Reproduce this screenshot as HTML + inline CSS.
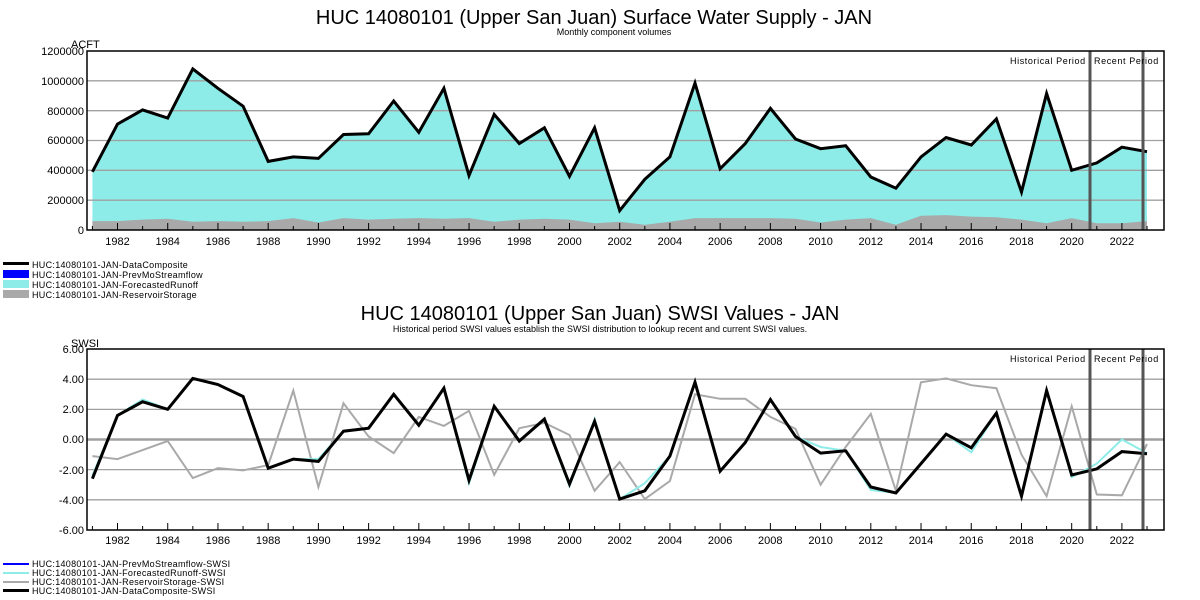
<!DOCTYPE html>
<html><head><meta charset="utf-8"><style>
html,body{margin:0;padding:0;background:#fff;}
svg{display:block;font-family:"Liberation Sans",Arial,sans-serif;}
</style></head><body>
<svg id="s" width="1200" height="600" viewBox="0 0 1200 600" xmlns="http://www.w3.org/2000/svg">
<rect width="1200" height="600" fill="#fff"/>
<text x="594" y="24" font-size="20" text-anchor="middle">HUC 14080101 (Upper San Juan) Surface Water Supply - JAN</text>
<text x="614" y="35" font-size="9" text-anchor="middle">Monthly component volumes</text>
<text x="600" y="320" font-size="20" text-anchor="middle">HUC 14080101 (Upper San Juan) SWSI Values - JAN</text>
<text x="600" y="332" font-size="9" text-anchor="middle">Historical period SWSI values establish the SWSI distribution to lookup recent and current SWSI values.</text>
<g id="top"></g><g id="bot"></g>
<g font-size="11" text-anchor="end">
<text x="84" y="55">1200000</text><text x="84" y="85">1000000</text><text x="84" y="115">800000</text><text x="84" y="144">600000</text><text x="84" y="174">400000</text><text x="84" y="204">200000</text><text x="84" y="234">0</text>
<text x="84" y="353">6.00</text><text x="84" y="383">4.00</text><text x="84" y="413">2.00</text><text x="84" y="443">0.00</text><text x="84" y="474">-2.00</text><text x="84" y="504">-4.00</text><text x="84" y="534">-6.00</text>
</g>
<text x="71" y="48" font-size="11">ACFT</text>
<text x="71" y="347" font-size="11">SWSI</text>
<g font-size="11" text-anchor="middle" id="yrs">
<text x="117.5" y="245">1982</text><text x="167.7" y="245">1984</text><text x="217.9" y="245">1986</text><text x="268.1" y="245">1988</text><text x="318.4" y="245">1990</text><text x="368.6" y="245">1992</text><text x="418.8" y="245">1994</text><text x="469" y="245">1996</text><text x="519.2" y="245">1998</text><text x="569.5" y="245">2000</text><text x="619.7" y="245">2002</text><text x="669.9" y="245">2004</text><text x="720.1" y="245">2006</text><text x="770.3" y="245">2008</text><text x="820.6" y="245">2010</text><text x="870.8" y="245">2012</text><text x="921" y="245">2014</text><text x="971.2" y="245">2016</text><text x="1021.4" y="245">2018</text><text x="1071.7" y="245">2020</text><text x="1121.9" y="245">2022</text>
<text x="117.5" y="544">1982</text><text x="167.7" y="544">1984</text><text x="217.9" y="544">1986</text><text x="268.1" y="544">1988</text><text x="318.4" y="544">1990</text><text x="368.6" y="544">1992</text><text x="418.8" y="544">1994</text><text x="469" y="544">1996</text><text x="519.2" y="544">1998</text><text x="569.5" y="544">2000</text><text x="619.7" y="544">2002</text><text x="669.9" y="544">2004</text><text x="720.1" y="544">2006</text><text x="770.3" y="544">2008</text><text x="820.6" y="544">2010</text><text x="870.8" y="544">2012</text><text x="921" y="544">2014</text><text x="971.2" y="544">2016</text><text x="1021.4" y="544">2018</text><text x="1071.7" y="544">2020</text><text x="1121.9" y="544">2022</text>
</g>
<g font-size="9" letter-spacing="0.6">
<text x="1010" y="64">Historical Period</text><text x="1094" y="64">Recent Period</text>
<text x="1010" y="362">Historical Period</text><text x="1094" y="362">Recent Period</text>
</g>
<g font-size="9" letter-spacing="0.3">
<rect x="3" y="262" width="26" height="3" fill="#000"/><text x="32" y="268">HUC:14080101-JAN-DataComposite</text>
<rect x="3" y="270" width="26" height="8" fill="#0000ff"/><text x="32" y="278">HUC:14080101-JAN-PrevMoStreamflow</text>
<rect x="3" y="280" width="26" height="8" fill="#8eece8"/><text x="32" y="288">HUC:14080101-JAN-ForecastedRunoff</text>
<rect x="3" y="290" width="26" height="8" fill="#a9a9a9"/><text x="32" y="298">HUC:14080101-JAN-ReservoirStorage</text>
<rect x="3" y="563" width="26" height="2" fill="#0000ff"/><text x="32" y="567">HUC:14080101-JAN-PrevMoStreamflow-SWSI</text>
<rect x="3" y="572" width="26" height="2" fill="#8eece8"/><text x="32" y="576">HUC:14080101-JAN-ForecastedRunoff-SWSI</text>
<rect x="3" y="581" width="26" height="2" fill="#a9a9a9"/><text x="32" y="585">HUC:14080101-JAN-ReservoirStorage-SWSI</text>
<rect x="3" y="589" width="26" height="3" fill="#000"/><text x="32" y="594">HUC:14080101-JAN-DataComposite-SWSI</text>
</g>
</svg>
<script>
var NS="http://www.w3.org/2000/svg";
function el(p,t,a){var e=document.createElementNS(NS,t);for(var k in a)e.setAttribute(k,a[k]);p.appendChild(e);return e;}
function X(y){return 92.4+(y-1981)*25.11;}
var tot=[390,710,805,750,1080,950,830,460,490,480,640,645,865,655,950,365,775,580,685,360,685,130,340,490,985,410,580,815,610,545,565,355,280,490,620,570,745,255,915,400,450,555,525];
var res=[60,60,70,75,55,60,55,60,80,50,80,70,75,80,75,80,55,70,75,70,45,55,35,55,80,80,80,80,75,50,70,80,35,95,100,90,85,70,45,80,45,45,60];
var comp=[-2.6,1.6,2.5,2.0,4.05,3.65,2.85,-1.9,-1.3,-1.45,0.55,0.75,3.0,0.95,3.4,-2.7,2.2,-0.1,1.35,-2.95,1.2,-3.95,-3.4,-1.1,3.8,-2.1,-0.2,2.65,0.2,-0.9,-0.75,-3.15,-3.55,-1.6,0.35,-0.55,1.75,-3.75,3.25,-2.35,-1.95,-0.8,-0.95];
var fc=comp.slice();fc[2]=2.65;fc[9]=-1.3;fc[15]=-2.9;fc[22]=-2.9;fc[29]=-0.5;fc[31]=-3.35;fc[35]=-0.85;fc[39]=-2.5;fc[40]=-1.6;fc[41]=0.0;fc[42]=-0.9;fc[0]=-2.4;fc[20]=1.35;fc[19]=-3.1;
var rs=[-1.1,-1.3,-0.7,-0.1,-2.55,-1.9,-2.05,-1.7,3.25,-3.15,2.4,0.2,-0.9,1.5,0.9,1.9,-2.35,0.75,1.1,0.3,-3.4,-1.5,-3.95,-2.75,3.0,2.7,2.7,1.5,0.7,-3.0,-0.5,1.7,-3.4,3.8,4.05,3.6,3.4,-1.0,-3.75,2.2,-3.65,-3.7,-0.3];
function TY(v){return 230-v/1200*179;}
function BY(v){return 439.5-v*15.08;}
function pts(a,f){return a.map(function(v,i){return X(1981+i).toFixed(1)+","+f(v).toFixed(1);}).join(" ");}
function frame(g,top,bot,vals,f,zero){
 vals.forEach(function(v){el(g,"line",{x1:87,x2:1164,y1:f(v),y2:f(v),stroke:"#a0a0a0","stroke-width":(zero&&v==0)?2.5:1.3});});
}
function ticks(g,bot){
 for(var y=1981;y<=2023;y++){var L=(y%2==0)?7:4;el(g,"line",{x1:X(y),x2:X(y),y1:bot,y2:bot-L,stroke:"#000","stroke-width":1});}
}
var T=document.getElementById("top");
el(T,"polygon",{points:pts(tot,TY)+" "+X(2023)+",230 "+X(1981)+",230",fill:"#8eece8"});
el(T,"polygon",{points:pts(res,TY)+" "+X(2023)+",230 "+X(1981)+",230",fill:"#a9a9a9"});
frame(T,51,230,[200,400,600,800,1000],TY,false);
ticks(T,230);
el(T,"polyline",{points:pts(tot,TY),fill:"none",stroke:"#000","stroke-width":3,"stroke-linejoin":"miter"});
[1090,1143].forEach(function(x){el(T,"line",{x1:x,x2:x,y1:51,y2:230,stroke:"#555","stroke-width":3});});
el(T,"rect",{x:87,y:51,width:1077,height:179,fill:"none",stroke:"#000","stroke-width":1.5});
var B=document.getElementById("bot");
frame(B,349,530,[4,2,0,-2,-4],BY,true);
ticks(B,530);
el(B,"polyline",{points:pts(rs,BY),fill:"none",stroke:"#a9a9a9","stroke-width":2});
el(B,"polyline",{points:pts(fc,BY),fill:"none",stroke:"#8eece8","stroke-width":2});
el(B,"polyline",{points:pts(comp,BY),fill:"none",stroke:"#000","stroke-width":3});
[1090,1143].forEach(function(x){el(B,"line",{x1:x,x2:x,y1:349,y2:530,stroke:"#555","stroke-width":3});});
el(B,"rect",{x:87,y:349,width:1077,height:181,fill:"none",stroke:"#000","stroke-width":1.5});
</script>
</body></html>
